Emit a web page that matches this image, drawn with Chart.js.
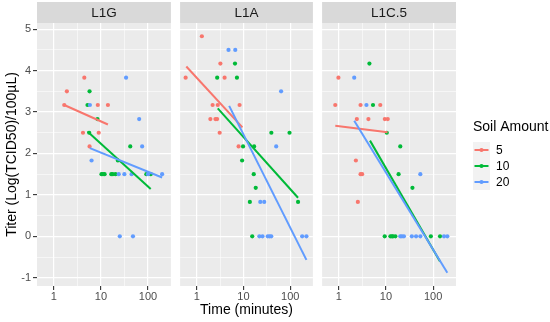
<!DOCTYPE html>
<html>
<head>
<meta charset="utf-8">
<script src="https://cdn.jsdelivr.net/npm/chart.js@4.4.1/dist/chart.umd.min.js"></script>
<style>
html,body{margin:0;padding:0;background:#ffffff;}
#wrap{position:relative;width:550px;height:322px;overflow:hidden;background:#ffffff;}
canvas{position:absolute;top:0;}
</style>
</head>
<body>
<div id="wrap">
<canvas id="c1" width="173" height="322" style="left:0px"></canvas>
<canvas id="c2" width="137" height="322" style="left:178px"></canvas>
<canvas id="c3" width="230" height="322" style="left:320px"></canvas>
</div>
<script>
// ---------------- DATA ----------------
const facets = ['L1G', 'L1A', 'L1C.5'];
const soilAmounts = ['5', '10', '20'];
const xTickValues = [1, 10, 100];
const xTickLabels = ['1', '10', '100'];
const yTickValues = [-1, 0, 1, 2, 3, 4, 5];
const yTickLabels = ['-1', '0', '1', '2', '3', '4', '5'];

// points: [time (minutes), titer]
const L1G_soil5 = [[4.45,3.83],[1.9,3.5],[1.67,3.17],[8.6,3.17],[14.1,3.17],[4.17,2.5],[9.0,2.5],[5.75,2.17]];
const L1G_soil10 = [[5.75,3.5],[5.2,3.17],[8.47,2.83],[5.66,2.5],[42,2.17],[22.9,1.83],
  [10.3,1.5],[11.1,1.5],[12.0,1.5],[16.6,1.5],[17.9,1.5],[20.4,1.5],[92,1.5],[114,1.5]];
const L1G_soil20 = [[34.2,3.83],[5.85,3.17],[64.9,2.83],[75,2.17],[6.34,1.83],
  [23.9,1.5],[31.5,1.5],[44.8,1.5],[100,1.5],[199,1.5],[25.2,0],[47.9,0]];

const L1A_soil5 = [[1.29,4.83],[3.21,4.17],[0.58,3.83],[3.95,3.83],[2.19,3.17],[2.82,3.17],[8.26,3.17],
  [1.96,2.83],[2.52,2.83],[2.73,2.83],[3.1,2.5],[7.87,2.17]];
const L1A_soil10 = [[6.59,4.17],[2.74,3.83],[7.25,3.83],[39.5,2.5],[96.7,2.5],[9.8,2.17],[16.9,2.17],
  [9.35,1.83],[16.6,1.5],[18.3,1.17],[13.7,0.83],[147,0.83],[15.4,0]];
const L1A_soil20 = [[4.79,4.5],[6.68,4.5],[63.8,3.5],[50.1,2.17],[22.9,0.83],[27.8,0.83],
  [21.9,0],[25.5,0],[33.1,0],[36.3,0],[39.3,0],[180,0],[222,0]];

const L1C5_soil5 = [[0.98,3.83],[0.84,3.17],[2.89,3.17],[7.57,3.17],[2.41,2.83],[4.24,2.83],[9.44,2.83],[10.9,2.83],
  [2.3,1.83],[2.89,1.5],[3.12,1.5],[2.53,0.83]];
const L1C5_soil10 = [[4.45,4.17],[5.3,3.17],[10.4,2.5],[20.1,2.17],[18.5,1.5],[36.4,1.17],
  [9.4,0],[12.4,0],[13.4,0],[14.1,0],[15.8,0],[89.5,0],[140,0]];
const L1C5_soil20 = [[2.12,3.83],[3.85,3.17],[53.5,1.5],
  [20.1,0],[21.8,0],[24,0],[35.3,0],[43.5,0],[53.6,0],[170,0],[200,0]];

// fitted lm lines (endpoints): [time, titer]
const L1G_fit5 = [[1.67,3.17],[14.1,2.70]];
const L1G_fit10 = [[5.2,2.53],[114,1.14]];
const L1G_fit20 = [[5.85,2.13],[199,1.42]];
const L1A_fit5 = [[0.6,4.1],[9.5,2.63]];
const L1A_fit10 = [[2.82,3.09],[147,0.93]];
const L1A_fit20 = [[4.94,3.15],[222,-0.57]];
const L1C5_fit5 = [[0.84,2.67],[10.8,2.51]];
const L1C5_fit10 = [[4.58,2.31],[140,-0.61]];
const L1C5_fit20 = [[2.12,2.79],[200,-0.88]];

const facetPoints = [[L1G_soil5, L1G_soil10, L1G_soil20],[L1A_soil5, L1A_soil10, L1A_soil20],[L1C5_soil5, L1C5_soil10, L1C5_soil20]];
const facetFits = [[L1G_fit5, L1G_fit10, L1G_fit20],[L1A_fit5, L1A_fit10, L1A_fit20],[L1C5_fit5, L1C5_fit10, L1C5_fit20]];

// ---------------- STYLE ----------------
const seriesColors = ['#F8766D', '#00BA38', '#619CFF'];
const FONT = '"Liberation Sans", Arial, Helvetica, sans-serif';
const X_MIN = 0.4416, X_MAX = 305.5, Y_MIN = -1.2, Y_MAX = 5.15;

function near(a, b) { return Math.abs(a - b) < 1e-6 * Math.max(1, Math.abs(b)); }

// grid values: majors + midpoints (geometric for log axis)
const xGrid = [];
[0.1].concat(xTickValues).concat([1000]).forEach((v, i, arr) => {
  if (i > 0 && i < arr.length - 1) xGrid.push(v);
  if (i < arr.length - 1) xGrid.push(Math.sqrt(v * arr[i + 1]));
});
const xGridValues = xGrid.filter(v => v >= X_MIN && v <= X_MAX).sort((a,b)=>a-b);
const yGrid = [];
yTickValues.forEach((v, i) => { yGrid.push(v); if (i < yTickValues.length - 1) yGrid.push((v + yTickValues[i + 1]) / 2); });
const yGridValues = yGrid.filter(v => v >= Y_MIN && v <= Y_MAX);

function xMajorIdx(v) { return xTickValues.findIndex(t => near(v, t)); }
function yMajorIdx(v) { return yTickValues.findIndex(t => near(v, t)); }

function datasetsFor(fi) {
  const ds = [];
  facetFits[fi].forEach((fit, i) => ds.push({
    label: soilAmounts[i],
    data: fit.map(p => ({x: p[0], y: p[1]})),
    showLine: true, borderColor: seriesColors[i], borderWidth: 2,
    pointRadius: 0, pointHoverRadius: 0, order: 2 - i
  }));
  facetPoints[fi].forEach((pts, i) => ds.push({
    label: soilAmounts[i],
    data: pts.map(p => ({x: p[0], y: p[1]})),
    showLine: false, pointRadius: 2.1, pointHoverRadius: 2.1,
    pointBackgroundColor: seriesColors[i], pointBorderWidth: 0,
    backgroundColor: seriesColors[i], borderColor: seriesColors[i], order: 5 - i
  }));
  return ds;
}

const panelPlugin = (fi) => ({
  id: 'panel' + fi,
  beforeDraw(chart) {
    const {ctx, chartArea: a} = chart;
    ctx.save();
    ctx.fillStyle = '#EBEBEB';
    ctx.fillRect(a.left, a.top, a.right - a.left, a.bottom - a.top);
    ctx.fillStyle = '#D9D9D9';
    ctx.fillRect(a.left, 2, a.right - a.left, a.top - 2);
    ctx.fillStyle = '#1A1A1A';
    ctx.font = '13.5px ' + FONT;
    ctx.textAlign = 'center';
    ctx.textBaseline = 'middle';
    ctx.fillText(facets[fi], (a.left + a.right) / 2, (2 + a.top) / 2 + 0.5);
    ctx.restore();
  }
});

const legendPlugin = {
  id: 'soilLegend',
  afterDraw(chart) {
    const {ctx, chartArea: a} = chart;
    const x0 = a.right + 17;
    ctx.save();
    ctx.fillStyle = '#000000';
    ctx.font = '14px ' + FONT;
    ctx.textAlign = 'left';
    ctx.textBaseline = 'middle';
    ctx.fillText('Soil Amount', x0, 127);
    const keyTop = 142, keyH = 16, keyW = 17;
    soilAmounts.forEach((lab, i) => {
      const y = keyTop + i * keyH;
      ctx.fillStyle = '#F2F2F2';
      ctx.fillRect(x0, y, keyW, keyH);
      const cy = y + keyH / 2;
      ctx.strokeStyle = seriesColors[i];
      ctx.lineWidth = 2;
      ctx.beginPath(); ctx.moveTo(x0 + 1.5, cy); ctx.lineTo(x0 + keyW - 1.5, cy); ctx.stroke();
      ctx.fillStyle = seriesColors[i];
      ctx.beginPath(); ctx.arc(x0 + keyW / 2, cy, 2.1, 0, Math.PI * 2); ctx.fill();
      ctx.fillStyle = '#000000';
      ctx.font = '12px ' + FONT;
      ctx.fillText(lab, x0 + 23, cy + 0.5);
    });
    ctx.restore();
  }
};

function makeChart(canvasId, fi, cfg) {
  const showY = fi === 0;
  const plugins = [panelPlugin(fi)];
  if (cfg.legend) plugins.push(legendPlugin);
  return new Chart(document.getElementById(canvasId), {
    type: 'scatter',
    data: {datasets: datasetsFor(fi)},
    plugins: plugins,
    options: {
      responsive: false, animation: false, devicePixelRatio: 1, events: [],
      layout: {padding: {top: 23, left: 0, right: cfg.padRight || 0, bottom: 0}},
      plugins: {legend: {display: false}, tooltip: {enabled: false}, title: {display: false}},
      scales: {
        x: {
          type: 'logarithmic', min: X_MIN, max: X_MAX,
          afterBuildTicks: s => { s.ticks = xGridValues.map(v => ({value: v})); },
          afterFit: s => { s.height = 36; },
          ticks: {
            autoSkip: false, maxRotation: 0, minRotation: 0, padding: 0,
            color: '#4D4D4D', font: {family: FONT, size: 11},
            callback: v => { const i = xMajorIdx(v); return i >= 0 ? xTickLabels[i] : ''; }
          },
          grid: {
            color: '#FFFFFF',
            lineWidth: c => (c.tick && xMajorIdx(c.tick.value) >= 0) ? 1.2 : 0.55,
            drawTicks: true, tickLength: 4,
            tickColor: c => (c.tick && xMajorIdx(c.tick.value) >= 0) ? '#333333' : 'rgba(0,0,0,0)',
            tickWidth: 1.1
          },
          border: {display: false},
          title: cfg.xTitle ? {display: true, text: 'Time (minutes)', color: '#000000',
            font: {family: FONT, size: 14}, padding: {top: 0, bottom: 3}} : {display: false}
        },
        y: {
          type: 'linear', min: Y_MIN, max: Y_MAX,
          afterBuildTicks: s => { s.ticks = yGridValues.map(v => ({value: v})); },
          afterFit: s => { s.width = showY ? 37 : 0; },
          ticks: {
            display: showY, padding: 2, color: '#4D4D4D', font: {family: FONT, size: 11},
            callback: v => { const i = yMajorIdx(v); return i >= 0 ? yTickLabels[i] : ''; }
          },
          grid: {
            color: '#FFFFFF',
            lineWidth: c => (c.tick && yMajorIdx(c.tick.value) >= 0) ? 1.2 : 0.55,
            drawTicks: showY, tickLength: 4,
            tickColor: c => (c.tick && yMajorIdx(c.tick.value) >= 0) ? '#333333' : 'rgba(0,0,0,0)',
            tickWidth: 1.1
          },
          border: {display: false},
          title: showY ? {display: true, text: 'Titer (Log(TCID50)/100µL)', color: '#000000',
            font: {family: FONT, size: 14}, padding: {top: 3.6, bottom: 0}} : {display: false}
        }
      }
    }
  });
}

makeChart('c1', 0, {});
makeChart('c2', 1, {xTitle: true});
makeChart('c3', 2, {legend: true, padRight: 94});
</script>
</body>
</html>
